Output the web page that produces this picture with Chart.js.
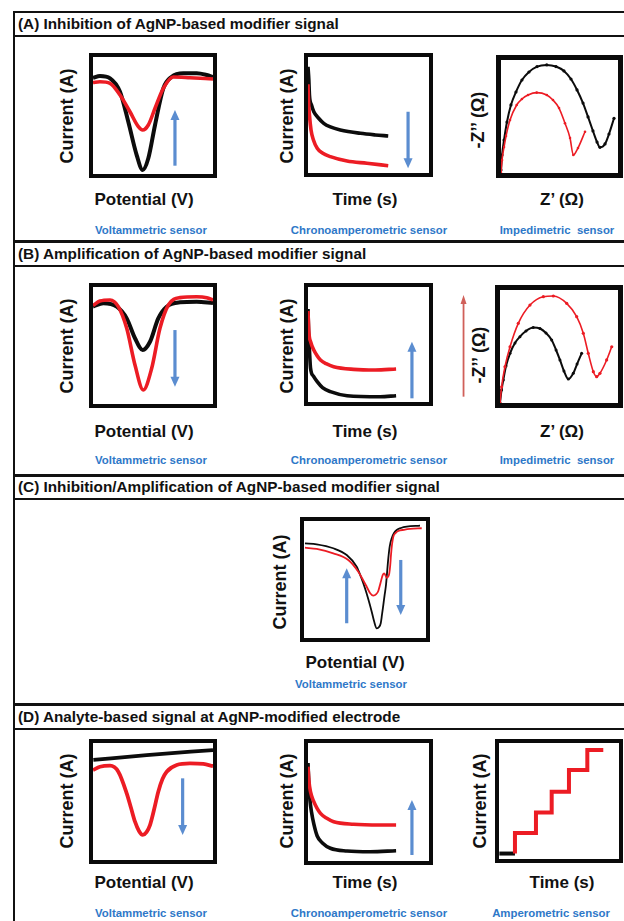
<!DOCTYPE html>
<html>
<head>
<meta charset="utf-8">
<script src="https://cdn.jsdelivr.net/npm/chart.js@4.4.1/dist/chart.umd.min.js"></script>
<style>
  body { margin: 0; background: #fff; }
  #fig { position: relative; width: 624px; height: 921px; overflow: hidden; font-family: "Liberation Sans", Arial, sans-serif; background: #fff; }
  .hl { position: absolute; left: 13px; width: 640px; height: 2px; background: #111; }
  .vl { position: absolute; left: 13px; top: 11px; width: 2px; height: 920px; background: #111; }
  .head { position: absolute; left: 18px; font-weight: bold; font-size: 15.3px; color: #111; white-space: nowrap; transform: translateY(-50%); }
  .lab { position: absolute; font-weight: bold; font-size: 17px; color: #111; white-space: nowrap; transform: translate(-50%, -50%); }
  .rot { transform: translate(-50%, -50%) rotate(-90deg); font-size: 18px; }
  .cap { position: absolute; font-weight: bold; font-size: 11.4px; color: #2e78c8; white-space: nowrap; transform: translate(-50%, -50%); }
  canvas { position: absolute; }
</style>
</head>
<body>
<div id="fig">
  <div class="vl"></div>
  <div class="hl" style="top:11px"></div>
  <div class="hl" style="top:35px"></div>
  <div class="hl" style="top:240px;height:3px"></div>
  <div class="hl" style="top:265px"></div>
  <div class="hl" style="top:474px;height:3px"></div>
  <div class="hl" style="top:498px"></div>
  <div class="hl" style="top:703px;height:3px"></div>
  <div class="hl" style="top:728px"></div>

  <div class="head" style="top:24px">(A) Inhibition of AgNP-based modifier signal</div>
  <div class="head" style="top:254px">(B) Amplification of AgNP-based modifier signal</div>
  <div class="head" style="top:487px">(C) Inhibition/Amplification of AgNP-based modifier signal</div>
  <div class="head" style="top:717px">(D) Analyte-based signal at AgNP-modified electrode</div>

  <!-- A -->
  <div class="lab rot" style="left:67px;top:116px">Current (A)</div>
  <div class="lab rot" style="left:287px;top:116px">Current (A)</div>
  <div class="lab rot" style="left:478px;top:120px">-Z’’ (Ω)</div>
  <div class="lab" style="left:144px;top:200px">Potential (V)</div>
  <div class="lab" style="left:365px;top:200px">Time (s)</div>
  <div class="lab" style="left:562px;top:200px">Z’ (Ω)</div>
  <div class="cap" style="left:151px;top:230px">Voltammetric sensor</div>
  <div class="cap" style="left:369px;top:230px">Chronoamperometric sensor</div>
  <div class="cap" style="left:557px;top:230px">Impedimetric&nbsp; sensor</div>

  <!-- B -->
  <div class="lab rot" style="left:67px;top:346px">Current (A)</div>
  <div class="lab rot" style="left:287px;top:346px">Current (A)</div>
  <div class="lab rot" style="left:479px;top:355px">-Z’’ (Ω)</div>
  <div class="lab" style="left:144px;top:432px">Potential (V)</div>
  <div class="lab" style="left:365px;top:432px">Time (s)</div>
  <div class="lab" style="left:562px;top:432px">Z’ (Ω)</div>
  <div class="cap" style="left:151px;top:460px">Voltammetric sensor</div>
  <div class="cap" style="left:369px;top:460px">Chronoamperometric sensor</div>
  <div class="cap" style="left:557px;top:460px">Impedimetric&nbsp; sensor</div>

  <!-- C -->
  <div class="lab rot" style="left:280px;top:582px">Current (A)</div>
  <div class="lab" style="left:355px;top:663px">Potential (V)</div>
  <div class="cap" style="left:351px;top:684px">Voltammetric sensor</div>

  <!-- D -->
  <div class="lab rot" style="left:67px;top:801px">Current (A)</div>
  <div class="lab rot" style="left:287px;top:801px">Current (A)</div>
  <div class="lab rot" style="left:480px;top:801px">Current (A)</div>
  <div class="lab" style="left:144px;top:883px">Potential (V)</div>
  <div class="lab" style="left:365px;top:883px">Time (s)</div>
  <div class="lab" style="left:562px;top:883px">Time (s)</div>
  <div class="cap" style="left:151px;top:913px">Voltammetric sensor</div>
  <div class="cap" style="left:369px;top:913px">Chronoamperometric sensor</div>
  <div class="cap" style="left:551px;top:913px">Amperometric sensor</div>
</div>

<script>
// all curves in arbitrary units: x 0..100 across the box, y 0..100 bottom..top
var a1Black = [[0,82.1],[5.8,83.8],[14.2,81.8],[22.5,70.3],[29.4,44.7],[36.4,16.2],[41.4,3.4],[46.1,13.4],[51.7,41.9],[58.6,73.2],[65.6,83.2],[75.3,86.1],[86.4,86.1],[94.8,84.6],[100,82.9]];
var a1Red = [[0,78.2],[5.8,78.9],[14.2,77.5],[22.5,67.5],[30.8,53.2],[37.8,40.4],[41.4,37.6],[46.1,41.9],[51.7,56.2],[58.6,73.2],[66.9,82.9],[80.8,82.3],[100,81.2]];
var a1Arrows = [{ x: 68.3, from: 7.1, to: 54.7 }];

var a2Black = [[0,91.6],[0.7,80.2],[1.2,67.2],[2.9,58.6],[4.8,52.8],[8.6,47.4],[13,42.8],[18.5,39.7],[26.7,37.1],[43.2,34.2],[55.6,32.8],[66.3,31.9]];
var a2Red = [[0,76.5],[0.4,62.9],[1.2,50],[2.5,37.1],[4.5,28.4],[7.6,21.3],[11.9,17.2],[18.5,14.1],[32.3,10.3],[48.7,8.4],[66.3,6.3]];
var a2Arrows = [{ x: 82.7, from: 52.8, to: 4.1 }];

var a3Black = [[0,2.7],[0.9,15.9],[2.6,29.2],[5.1,45.1],[8.5,60.2],[12.8,71.7],[17.9,82.3],[23.9,89.4],[30.8,94.2],[39.1,95.6],[47,94.2],[53.8,90.3],[59.8,83.2],[65,73.5],[70.1,61.9],[74.4,49.6],[78.6,37.2],[82.1,27.4],[84.6,22.7],[88.9,25.7],[92.3,34.5],[96.6,48.4]];
var a3Red = [[0,0],[0.9,11.5],[2.6,23],[4.3,32.7],[7.7,46.9],[13.4,60.2],[17.9,65.5],[23.1,69],[30.5,71.1],[39.1,69],[44.4,64.6],[49.6,57.5],[54.7,44],[59,31],[61.8,15.9],[65.8,22.1],[71.8,36.5]];

var b1Black = [[0,83.3],[8.6,86.1],[19.8,83.2],[28.1,73.2],[35,56.2],[41.4,46.2],[47.5,53.2],[54.4,73.2],[61.4,83.2],[72.5,86.9],[86.4,87.4],[100,86.3]];
var b1Red = [[0,84.2],[5.8,88],[14.2,88.9],[21.1,83.2],[28.1,64.7],[35,33.3],[41.9,12],[48.9,30.5],[55.8,64.7],[62.8,84.6],[72.5,90.9],[86.4,91.7],[94.8,90.9],[100,88.9]];
var b1Arrows = [{ x: 68.3, from: 63.2, to: 14.8 }];

var b2Black = [[0,80.9],[0.5,60],[1.2,45],[2.1,29.3],[4.5,22.5],[7.6,17.7],[12,12.5],[18.5,9],[32.3,5.5],[59.7,4.6],[72.8,5.5]];
var b2Red = [[0,79.1],[0.7,61.1],[2.3,52],[4.8,45.2],[7.4,40.5],[10.3,36.5],[15,33.3],[21.2,30.7],[37.7,28.4],[55.6,27.8],[72.8,28.7]];
var b2Arrows = [{ x: 85.9, from: 3.2, to: 52.4 }];

var b3Black = [[0,0],[1.3,11.5],[2.8,20.4],[5.1,32.7],[8.5,44],[12.7,53.1],[16.9,58.7],[22,63.7],[28.2,66.8],[33.9,65.9],[39,61.9],[43.8,55.8],[47.5,46.9],[50.8,38.1],[54.2,28.3],[57.9,21.2],[62.1,26.3],[65.3,34.5],[69.2,44]];
var b3Red = [[0,0],[1.4,14.4],[4.2,32.1],[8.5,49.8],[15.5,70.5],[25.4,86.7],[36.7,94.1],[45.2,94.7],[56.5,88.2],[65,76.4],[70.6,61.7],[74.8,44],[79.1,27.7],[81.9,23.3],[84.7,26.3],[90.4,38.1],[94.7,49.8]];
var b3Arrows = [{ x: -30.9, from: 5.6, to: 95.6 }];

var cBlack = [[0.8,80.9],[10.4,80.1],[24,76.7],[35,70.9],[43.2,60.9],[46.7,52.1],[50,42.5],[52.9,32.5],[55.5,22.5],[57.4,14.5],[59.6,8.3],[61.5,9.4],[62.9,12.6],[63.9,19.7],[65,28.2],[66.1,36.8],[67.2,45.3],[68.2,57.3],[69.1,68.1],[70.3,78.6],[71.9,85.2],[73.8,89.7],[76,92.3],[79.5,94],[84.2,95.1],[95.1,96]];
var cRed = [[0.8,77.2],[10.4,76.1],[24,72.4],[36.3,66.7],[44.5,56.7],[48.4,49.6],[51.4,43.8],[54.1,38.5],[56.8,36.2],[59,37.2],[60.9,40.2],[62.7,47],[64.5,53.8],[65.8,55.3],[67.8,51.5],[69.3,53],[69.9,55.3],[70.7,62.4],[71.3,70.9],[72.1,79.5],[73.2,86.6],[75,89.7],[77.3,91.5],[82,92.5],[86.9,93.2],[96.5,93.8]];
var cArrows = [{ x: 35, from: 12.6, to: 59.6 }, { x: 79.3, from: 66.7, to: 19.7 }];

var d1Black = [[0.3,85.5],[44.7,89.7],[100,94]];
var d1Red = [[0,76.9],[5.8,79.7],[14.2,80.6],[21.1,75.5],[28.1,57],[31.7,44.4],[35,32.7],[38.3,24.8],[41.4,21.4],[44.6,23.9],[47.5,29.9],[50.8,42.7],[54.4,58.4],[57.9,69.2],[61.4,75.5],[69.8,81.2],[80.8,82.6],[91.9,82.1],[100,80.3]];
var d1Arrows = [{ x: 74.7, from: 69.8, to: 21.4 }];

var d2Black = [[0,83.1],[0.7,64.4],[1.6,51.7],[2.9,41.5],[4.8,31.4],[7.6,21.2],[11.9,15.3],[18.5,10.8],[32.3,8.5],[51.4,7.9],[72.8,8.7]];
var d2Red = [[0,79.9],[0.7,68.6],[2.1,58.5],[4.8,50.3],[7.4,44.9],[10.3,40.4],[15.2,36.4],[21.2,33.3],[37.7,31.1],[59.7,30.5],[72.8,30.5]];
var d2Arrows = [{ x: 85.9, from: 5.1, to: 51.7 }];

var d3Base = [[0.3,4.7],[13.3,4.7]];
var d3StepX = [13.3, 30.8, 43.9, 58.3, 73.6, 86.9];
var d3StepY = [4.7, 22.5, 40.1, 57.9, 76.7, 93.9];

var RED = '#ec1c24', BLACK = '#0c0c0c', BLUE = '#5b8dd0';

function pts(arr) { return arr.map(function(p) { return { x: p[0], y: p[1] }; }); }

function curve(arr, color, width, dot) {
  return {
    data: pts(arr),
    borderColor: color,
    backgroundColor: color,
    borderWidth: width,
    pointRadius: dot || 0,
    pointBorderWidth: 0,
    pointBackgroundColor: color,
    cubicInterpolationMode: 'monotone',
    fill: false
  };
}

var framePlugin = {
  id: 'frame',
  afterDraw: function(chart, args, o) {
    var a = chart.chartArea, ctx = chart.ctx, bw = o.width || 4;
    ctx.save();
    ctx.strokeStyle = '#0a0a0a';
    ctx.lineWidth = bw;
    ctx.strokeRect(a.left - bw / 2, a.top - bw / 2, a.right - a.left + bw, a.bottom - a.top + bw);
    ctx.restore();
  }
};

var arrowPlugin = {
  id: 'arrows',
  afterDatasetsDraw: function(chart, args, o) {
    var list = o.list || [];
    var xs = chart.scales.x, ys = chart.scales.y, ctx = chart.ctx;
    list.forEach(function(a) {
      var x = xs.getPixelForValue(a.x);
      var y0 = ys.getPixelForValue(a.from), y1 = ys.getPixelForValue(a.to);
      var dir = y1 < y0 ? -1 : 1;
      var hl = o.headLen, hw = o.headW;
      ctx.save();
      ctx.strokeStyle = o.color;
      ctx.fillStyle = o.color;
      ctx.lineWidth = o.width;
      ctx.beginPath();
      ctx.moveTo(x, y0);
      ctx.lineTo(x, y1 - dir * hl * 0.8);
      ctx.stroke();
      ctx.beginPath();
      ctx.moveTo(x, y1);
      ctx.lineTo(x - hw / 2, y1 - dir * hl);
      ctx.lineTo(x + hw / 2, y1 - dir * hl);
      ctx.closePath();
      ctx.fill();
      ctx.restore();
    });
  }
};

function panel(box, pad, datasets, arrows, opt) {
  opt = opt || {};
  var cv = document.createElement('canvas');
  var w = box.w + pad.l + pad.r, h = box.h + pad.t + pad.b;
  cv.width = w; cv.height = h;
  cv.style.left = (box.l - pad.l) + 'px';
  cv.style.top = (box.t - pad.t) + 'px';
  cv.style.width = w + 'px'; cv.style.height = h + 'px';
  document.getElementById('fig').appendChild(cv);
  return new Chart(cv, {
    type: 'line',
    data: { datasets: datasets },
    options: {
      responsive: false,
      animation: false,
      devicePixelRatio: 1,
      layout: { padding: { left: pad.l, right: pad.r, top: pad.t, bottom: pad.b } },
      scales: {
        x: { type: 'linear', min: 0, max: 100, display: false },
        y: { type: 'linear', min: 0, max: 100, display: false }
      },
      plugins: {
        legend: { display: false },
        tooltip: { enabled: false },
        frame: { width: opt.frame || 4 },
        arrows: {
          list: arrows || [],
          color: opt.arrowColor || BLUE,
          width: opt.arrowWidth || 3.2,
          headLen: opt.headLen || 10,
          headW: opt.headW || 9
        }
      }
    },
    plugins: [framePlugin, arrowPlugin]
  });
}

var P = { l: 8, r: 8, t: 8, b: 8 };

// (A)
panel({ l: 93, t: 57, w: 120, h: 117 }, P, [curve(a1Red, RED, 3.6), curve(a1Black, BLACK, 4)], a1Arrows);
panel({ l: 308, t: 57, w: 121, h: 116 }, P, [curve(a2Red, RED, 3.6), curve(a2Black, BLACK, 3.6)], a2Arrows);
panel({ l: 501, t: 60, w: 117, h: 113 }, P, [curve(a3Red, RED, 1.6, 1.3), curve(a3Black, BLACK, 2, 1.6)], [], { frame: 5 });

// (B)
panel({ l: 93, t: 287, w: 120, h: 117 }, P, [curve(b1Red, RED, 3.6), curve(b1Black, BLACK, 4)], b1Arrows);
panel({ l: 308, t: 287, w: 121, h: 115 }, P, [curve(b2Red, RED, 3.6), curve(b2Black, BLACK, 3.6)], b2Arrows);
panel({ l: 500, t: 290, w: 118, h: 113 }, { l: 45, r: 6, t: 8, b: 8 },
  [curve(b3Red, RED, 1.6, 1.6), curve(b3Black, BLACK, 2, 1.5)], b3Arrows,
  { frame: 5, arrowColor: '#d0605a', arrowWidth: 1.8, headLen: 9, headW: 6 });

// (C)
panel({ l: 304, t: 521, w: 122, h: 117 }, P, [curve(cRed, RED, 1.8), curve(cBlack, BLACK, 1.8)], cArrows);

// (D)
panel({ l: 93, t: 743, w: 120, h: 117 }, P, [curve(d1Red, RED, 3.8), curve(d1Black, BLACK, 3.8)], d1Arrows);
panel({ l: 308, t: 743, w: 121, h: 118 }, P, [curve(d2Red, RED, 3.6), curve(d2Black, BLACK, 3.6)], d2Arrows);

var steps = d3StepX.map(function(x, i) { return [x, d3StepY[i]]; });
var stepSet = curve(steps, RED, 4);
stepSet.cubicInterpolationMode = 'default';
stepSet.stepped = 'after';
var baseSet = curve(d3Base, BLACK, 4);
panel({ l: 499, t: 743, w: 120, h: 116 }, P, [stepSet, baseSet], []);
</script>
</body>
</html>
